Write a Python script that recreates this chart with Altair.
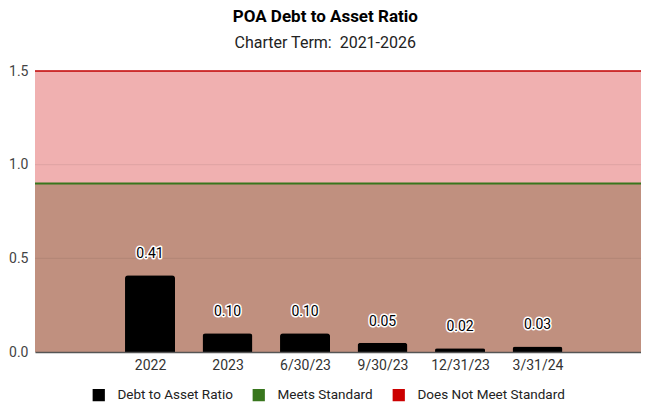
import altair as alt
import pandas as pd

# ---- data ----
categories = ["2022", "2023", "6/30/23", "9/30/23", "12/31/23", "3/31/24"]
ratios = [0.41, 0.10, 0.10, 0.05, 0.02, 0.03]
series_names = ["Debt to Asset Ratio", "Meets Standard", "Does Not Meet Standard"]
series_colors = ["#000000", "#38761D", "#CC0000"]
standard_line = 0.9
upper_limit = 1.5
grid_values = [0.5, 1.0]
y_ticks = [0.0, 0.5, 1.0, 1.5]

W, H = 606, 281
FONT = "Roboto"

bars = pd.DataFrame({
    "cat": categories,
    "idx": list(range(1, len(categories) + 1)),
    "value": ratios,
    "series": series_names[0],
})
bars["label"] = [f"{v:.2f}" for v in ratios]

regions = pd.DataFrame({
    "y0": [0.0, standard_line],
    "y1": [standard_line, upper_limit],
    "fill": ["#C0907F", "#F0B0B0"],
})
grid = pd.DataFrame({"y": grid_values})
green = pd.DataFrame({"y": [standard_line]})
red = pd.DataFrame({"y": [upper_limit]})

label_array = "[" + ",".join(["''"] + [f"'{c}'" for c in categories]) + "]"

xscale = alt.Scale(domain=[-0.484, 7.335], nice=False, zero=False, padding=0)
yscale = alt.Scale(domain=[0, upper_limit], nice=False, padding=0)

xaxis = alt.Axis(
    values=list(range(1, len(categories) + 1)),
    labelExpr=f"{label_array}[datum.value]",
    title=None, ticks=False, grid=False,
    domainColor="#555555", domainWidth=1.5,
    labelFontSize=14, labelColor="#333333", labelFont=FONT, labelPadding=6,
    zindex=1,
)
yaxis = alt.Axis(
    values=y_ticks, format=".1f", title=None, ticks=False, grid=False,
    domain=False, labelFontSize=14, labelColor="#444444", labelFont=FONT,
    labelPadding=7,
)

bg = alt.Chart(regions).mark_rect().encode(
    y=alt.Y("y0:Q", scale=yscale, axis=yaxis),
    y2="y1:Q",
    x=alt.value(0), x2=alt.value(W),
    fill=alt.Fill("fill:N", scale=None),
)

grid_rules = alt.Chart(grid).mark_rule(color="black", opacity=0.08, strokeWidth=1).encode(
    y=alt.Y("y:Q", scale=yscale), x=alt.value(0), x2=alt.value(W)
)
green_rule = alt.Chart(green).mark_rule(color=series_colors[1], strokeWidth=2).encode(
    y=alt.Y("y:Q", scale=yscale), x=alt.value(0), x2=alt.value(W)
)
red_rule = alt.Chart(red).mark_rule(color="#C00000", strokeWidth=1.5).encode(
    y=alt.Y("y:Q", scale=yscale), x=alt.value(0), x2=alt.value(W)
)

bar_layer = alt.Chart(bars).mark_bar(size=50, cornerRadiusTopLeft=3, cornerRadiusTopRight=3).encode(
    x=alt.X("idx:Q", scale=xscale, axis=xaxis),
    y=alt.Y("value:Q", scale=yscale),
    color=alt.Color(
        "series:N",
        scale=alt.Scale(domain=series_names, range=series_colors),
        legend=alt.Legend(
            orient="none", legendX=57, legendY=317, direction="horizontal",
            title=None, symbolType="square", symbolSize=150, symbolStrokeWidth=0,
            labelFontSize=13.5, labelFont=FONT, labelColor="#222222",
            labelOffset=12, columnPadding=19,
        ),
    ),
)

halo = alt.Chart(bars).mark_text(
    dy=-21, fontSize=14, font=FONT, stroke="white", strokeWidth=3, color="white",
    strokeJoin="round"
).encode(x=alt.X("idx:Q", scale=xscale), y=alt.Y("value:Q", scale=yscale), text="label:N")
txt = alt.Chart(bars).mark_text(dy=-21, fontSize=14, font=FONT, color="black").encode(
    x=alt.X("idx:Q", scale=xscale), y=alt.Y("value:Q", scale=yscale), text="label:N"
)

chart = alt.layer(bg, grid_rules, green_rule, red_rule, bar_layer, halo, txt).properties(
    width=W, height=H,
    autosize=alt.AutoSizeParams(type="none"),
    padding={"left": 27, "top": 63, "right": 0, "bottom": 50},
    title=alt.TitleParams(
        "POA Debt to Asset Ratio", subtitle="Charter Term:\u00a0 2021-2026",
        fontSize=17, fontWeight="bold", font=FONT, color="#000000",
        subtitleFontSize=16, subtitleFont=FONT, subtitleColor="#222222",
        subtitlePadding=9, anchor="middle", frame="bounds", offset=12,
    ),
).configure_view(stroke=None).configure(background="white")

chart.save("out.html", embed_options={"renderer": "svg", "actions": False})
